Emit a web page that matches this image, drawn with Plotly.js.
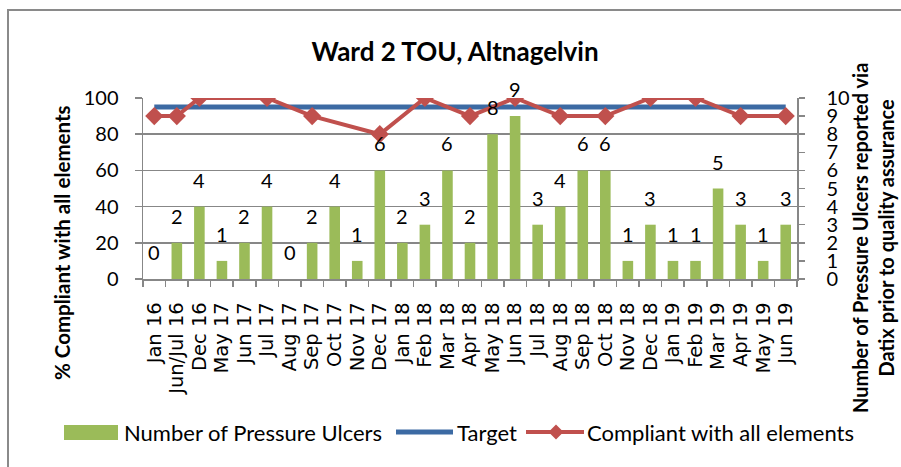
<!DOCTYPE html>
<html>
<head>
<meta charset="utf-8">
<script src="https://cdn.plot.ly/plotly-3.0.1.min.js"></script>
<style>
  html, body { margin: 0; padding: 0; background: #fff; }
  #chart { width: 901px; height: 467px; }
</style>
</head>
<body>
<div id="chart"></div>
<script>
const categories = ["Jan 16","Jun/Jul 16","Dec 16","May 17","Jun 17","Jul 17","Aug 17","Sep 17","Oct 17","Nov 17","Dec 17","Jan 18","Feb 18","Mar 18","Apr 18","May 18","Jun 18","Jul 18","Aug 18","Sep 18","Oct 18","Nov 18","Dec 18","Jan 19","Feb 19","Mar 19","Apr 19","May 19","Jun 19"];
const pressureUlcers = [0,2,4,1,2,4,0,2,4,1,6,2,3,6,2,8,9,3,4,6,6,1,3,1,1,5,3,1,3];
const target = [95,95,95,95,95,95,95,95,95,95,95,95,95,95,95,95,95,95,95,95,95,95,95,95,95,95,95,95,95];
const compliant = [90,90,100,null,null,100,null,90,null,null,80,null,100,null,90,null,100,null,90,null,90,null,100,null,100,null,90,null,90];
const leftTicks = [0,20,40,60,80,100];
const rightTicks = [0,1,2,3,4,5,6,7,8,9,10];
const seriesNames = ["Number of Pressure Ulcers", "Target", "Compliant with all elements"];

const FONT = "Lato, 'Open Sans', sans-serif";
const GRID = "#878787";
const GREEN = "#9BBB59", BLUE = "#3C6AA3", RED = "#C0504D";

// plot area in pixels: left 143, right 797, top 98, bottom 279
const PL = 143, PW = 654, PB = 279, PH = 181;
const px = v => (v - PL) / PW;
const py = v => (PB - v) / PH;

const traces = [
  {
    type: "bar", name: seriesNames[0],
    x: categories, y: pressureUlcers, yaxis: "y2",
    marker: { color: GREEN }, hoverinfo: "x+y"
  },
  {
    type: "scatter", mode: "lines", name: seriesNames[1],
    x: categories, y: target,
    line: { color: BLUE, width: 5 }
  },
  {
    type: "scatter", mode: "lines+markers", name: seriesNames[2],
    x: categories, y: compliant, connectgaps: true,
    line: { color: RED, width: 4 },
    marker: { symbol: "diamond", size: 14, color: RED }
  }
];

const annotations = pressureUlcers.map((v, i) => ({
  x: categories[i], y: v, xref: "x", yref: "y2",
  text: String(v), showarrow: false, yanchor: "bottom", yshift: 13,
  font: { family: FONT, size: 20, color: "#000" }
}));

annotations.push({
  text: "<b>% Compliant with all elements</b>", textangle: -90,
  xref: "paper", yref: "paper", x: px(62), y: py(243), showarrow: false,
  xanchor: "center", yanchor: "middle",
  font: { family: FONT, size: 20.5, color: "#000" }
});
annotations.push({
  text: "<b>Number of Pressure Ulcers reported via<br>Datix prior to quality assurance</b>", textangle: -90,
  xref: "paper", yref: "paper", x: px(873), y: py(238), showarrow: false,
  xanchor: "center", yanchor: "middle",
  font: { family: FONT, size: 20, color: "#000" }
});

// legend (drawn as shapes + text to match the reference layout)
const legendY = 432;
const legendTextX = [122, 455, 585];
seriesNames.forEach((name, i) => {
  annotations.push({
    text: name, xref: "paper", yref: "paper", x: px(legendTextX[i]), y: py(legendY),
    xanchor: "left", yanchor: "middle", showarrow: false,
    font: { family: FONT, size: 22, color: "#000" }
  });
});

const dx = 7.5 / PW, dy = 7.5 / PH;
const shapes = [
  {
    type: "rect", xref: "paper", yref: "paper",
    x0: px(8), x1: px(1000), y0: py(600), y1: py(10),
    line: { color: "#8a8a8a", width: 2 }, fillcolor: "rgba(0,0,0,0)", layer: "below"
  },
  {
    type: "rect", xref: "paper", yref: "paper",
    x0: px(64), x1: px(118), y0: py(440), y1: py(425),
    line: { width: 0 }, fillcolor: GREEN
  },
  {
    type: "line", xref: "paper", yref: "paper",
    x0: px(396), x1: px(453), y0: py(legendY), y1: py(legendY),
    line: { color: BLUE, width: 5 }
  },
  {
    type: "line", xref: "paper", yref: "paper",
    x0: px(526), x1: px(584), y0: py(legendY), y1: py(legendY),
    line: { color: RED, width: 4 }
  },
  {
    type: "path", xref: "paper", yref: "paper",
    path: `M ${px(556) - dx} ${py(legendY)} L ${px(556)} ${py(legendY) + dy} L ${px(556) + dx} ${py(legendY)} L ${px(556)} ${py(legendY) - dy} Z`,
    line: { width: 0 }, fillcolor: RED
  }
];

const layout = {
  width: 901, height: 467,
  margin: { l: 143, r: 104, t: 98, b: 188 },
  paper_bgcolor: "#fff", plot_bgcolor: "#fff",
  font: { family: FONT, color: "#000" },
  title: {
    text: "<b>Ward 2 TOU, Altnagelvin</b>",
    font: { family: FONT, size: 26, color: "#000" },
    x: 455 / 901, xanchor: "center", y: 1 - 52 / 467, yanchor: "middle"
  },
  bargap: 0.53,
  showlegend: false,
  xaxis: {
    type: "category", tickangle: -90, range: [-0.5, 28.5],
    tickmode: "linear", tick0: 0, dtick: 1,
    tickfont: { family: "DejaVu Sans", size: 19.5, color: "#000" },
    showline: true, linecolor: GRID, linewidth: 1.5,
    ticks: "outside", tickson: "boundaries", ticklen: 6, tickcolor: GRID, tickwidth: 1.5,
    ticklabelstandoff: 14,
    showgrid: false, fixedrange: true
  },
  yaxis: {
    range: [0, 100], tickvals: leftTicks,
    tickfont: { family: FONT, size: 20, color: "#000" },
    showline: true, linecolor: GRID, linewidth: 1.5,
    ticks: "outside", ticklen: 7, tickcolor: GRID, tickwidth: 1.5,
    ticklabelstandoff: 12,
    showgrid: true, gridcolor: GRID, gridwidth: 1.5, zeroline: false
  },
  yaxis2: {
    range: [0, 10], tickvals: rightTicks, overlaying: "y", side: "right",
    tickfont: { family: FONT, size: 20, color: "#000" },
    showline: true, linecolor: GRID, linewidth: 1.5,
    ticks: "outside", ticklen: 6, tickcolor: GRID, tickwidth: 1.5,
    ticklabelstandoff: 18,
    showgrid: false, zeroline: false
  },
  annotations: annotations,
  shapes: shapes
};

Plotly.newPlot("chart", traces, layout, { displayModeBar: false, staticPlot: true });
</script>
</body>
</html>
